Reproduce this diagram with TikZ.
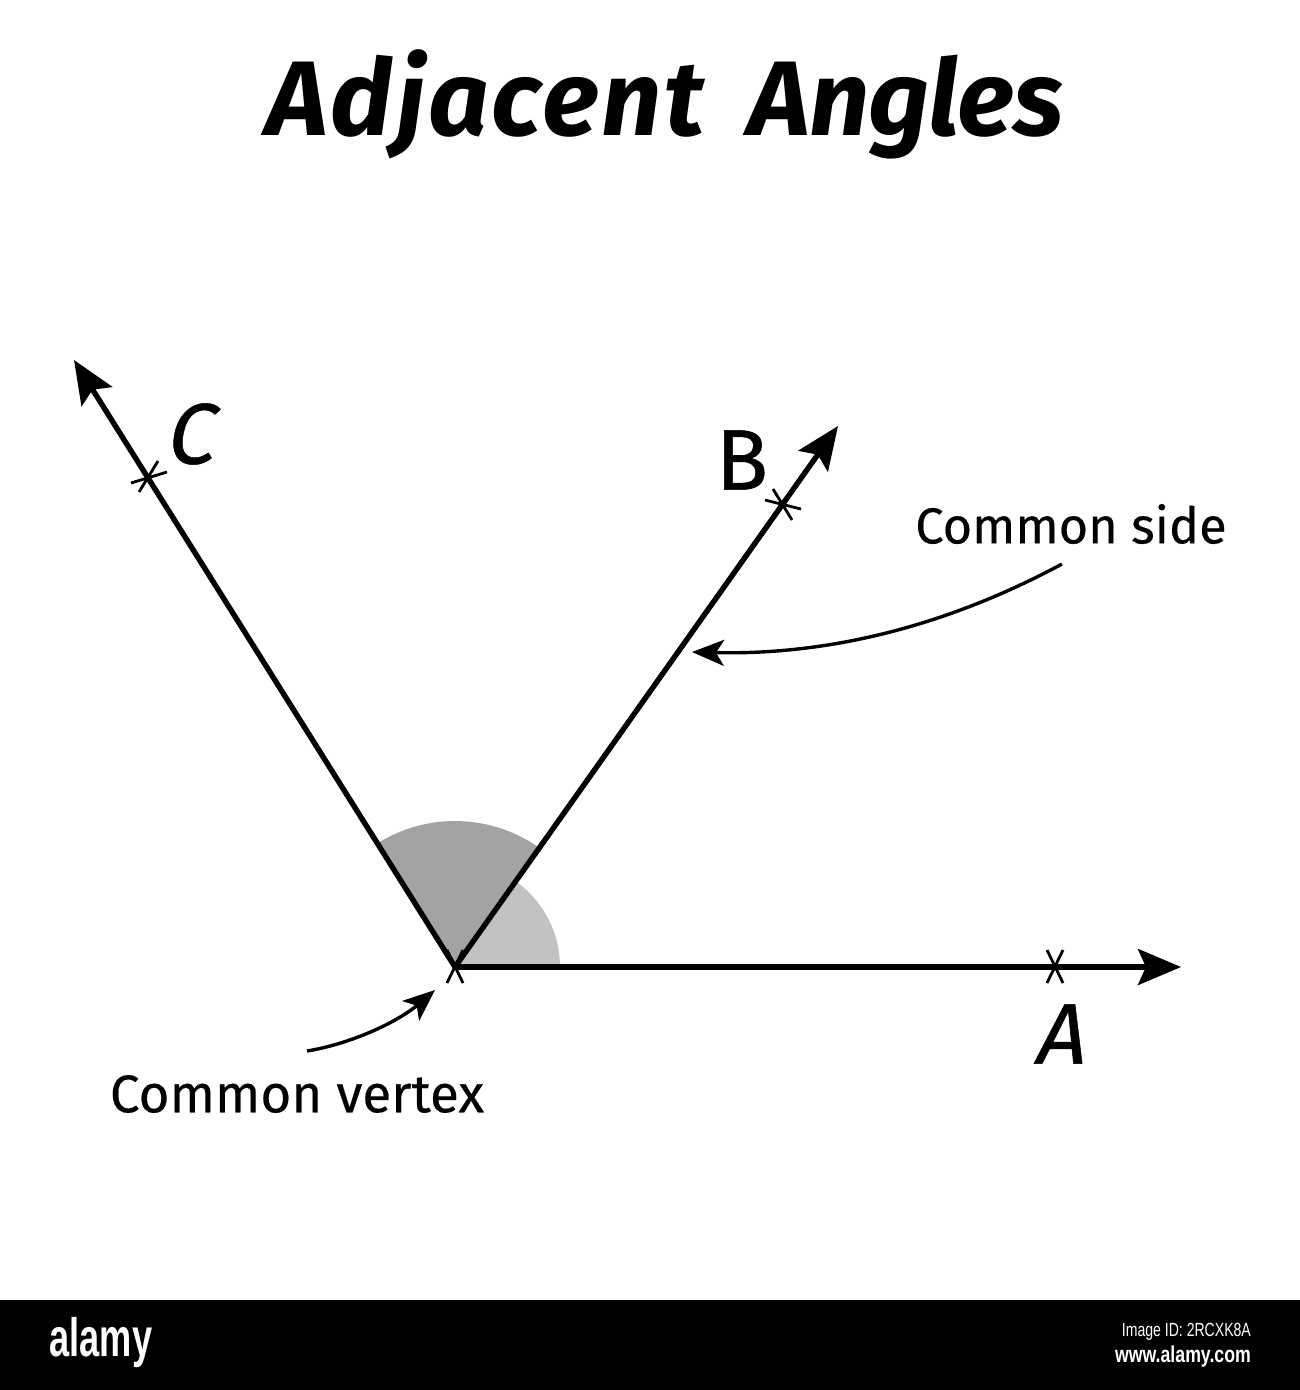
\documentclass[tikz,border=0pt]{standalone}
\usepackage{fontspec}
\setmainfont{Fira Sans}
\newfontfamily\wmfont{Liberation Sans}
\newfontfamily\labelfont[FakeBold=0.6]{Fira Sans}
\newfontfamily\labelitfont[FakeBold=0.6,FakeSlant=0.2]{Fira Sans}
\newfontfamily\capfont[FakeBold=0.35]{Fira Sans}
\newfontfamily\titlefonta[LetterSpace=2.7]{Fira Sans Bold Italic}
\newfontfamily\titlefontb[LetterSpace=-0.9]{Fira Sans Bold Italic}
\usetikzlibrary{arrows.meta}
\tikzset{
  ray/.style={line width=5.4pt,-{Stealth[length=43pt,width=36pt,inset=8pt]}},
  callout/.style={line width=3.4pt,-{Stealth[length=32pt,width=26pt,inset=8pt]}},
  tickmark/.style={line width=2.8pt},
  lbl/.style={font=\labelfont\fontsize{86}{86}\selectfont,inner sep=0pt},
  lblit/.style={font=\labelitfont\fontsize{86}{86}\selectfont,inner sep=0pt},
}
\begin{document}
\begin{tikzpicture}[x=1pt,y=-1pt]
\useasboundingbox (0,0) rectangle (1300,1390);
\fill[white] (0,0) rectangle (1300,1390);
\fill[black] (0,1300) rectangle (1300,1390);
\coordinate (V) at (455,967);
\coordinate (Atip) at (1181,967);
\coordinate (Btip) at (838,426);
\coordinate (Ctip) at (74,360);
\fill[fill=black!24] (V) -- ++(105,0) arc[start angle=0,end angle=-54.7,radius=105] -- cycle;
\fill[fill=black!36] (V) -- ++(-54.7:146) arc[start angle=-54.7,end angle=-122.1,radius=146] -- cycle;
\draw[ray] (V) -- (Atip);
\draw[ray] (V) -- (Btip);
\draw[ray] (V) -- (Ctip);
\draw[tickmark] (447,983) -- (463,950) (463,983) -- (447,950);
\draw[tickmark] (1047,950) -- (1063,983) (1063,950) -- (1047,983);
\draw[tickmark] (131,483) -- (167,472) (139,492) -- (158,461);
\draw[tickmark] (765,500) -- (801,509) (773,489) -- (792,520);
\node[font=\fontsize{106}{106}\selectfont,inner sep=0pt] (title) at (665,104) {{\titlefonta Adjacent}\hspace{44pt}{\titlefontb Angles}};
\node[lblit] (lA) at (1058,1034) {A};
\node[lbl] (lB) at (742,460) {B};
\node[lblit] (lC) at (188,434) {C};
\node[font=\capfont\fontsize{50.5}{50.5}\selectfont,inner sep=0pt] (side) at (1071,524) {Common side};
\node[font=\capfont\fontsize{53}{53}\selectfont,inner sep=0pt] (vertex) at (297,1094) {Common vertex};
\coordinate (sideS) at (1062,564);
\coordinate (sideE) at (692,652);
\coordinate (vertS) at (307,1051);
\coordinate (vertE) at (435,990);
\draw[callout] (sideS) .. controls (930,635) and (810,655) .. (sideE);
\draw[callout] (vertS) .. controls (355,1043) and (400,1020) .. (vertE);
\node[text=white,font=\wmfont\bfseries\fontsize{54}{54}\selectfont,inner sep=0pt,xscale=.67] (logo) at (101,1343) {alamy};
\node[text=white,font=\wmfont\fontsize{19}{19}\selectfont,inner sep=0pt,anchor=east,xscale=.74] (imgid) at (1251,1332) {Image ID: 2RCXK8A};
\node[text=white,font=\wmfont\bfseries\fontsize{23}{23}\selectfont,inner sep=0pt,anchor=east,xscale=.77] (url) at (1251,1357) {www.alamy.com};
\end{tikzpicture}
\end{document}
